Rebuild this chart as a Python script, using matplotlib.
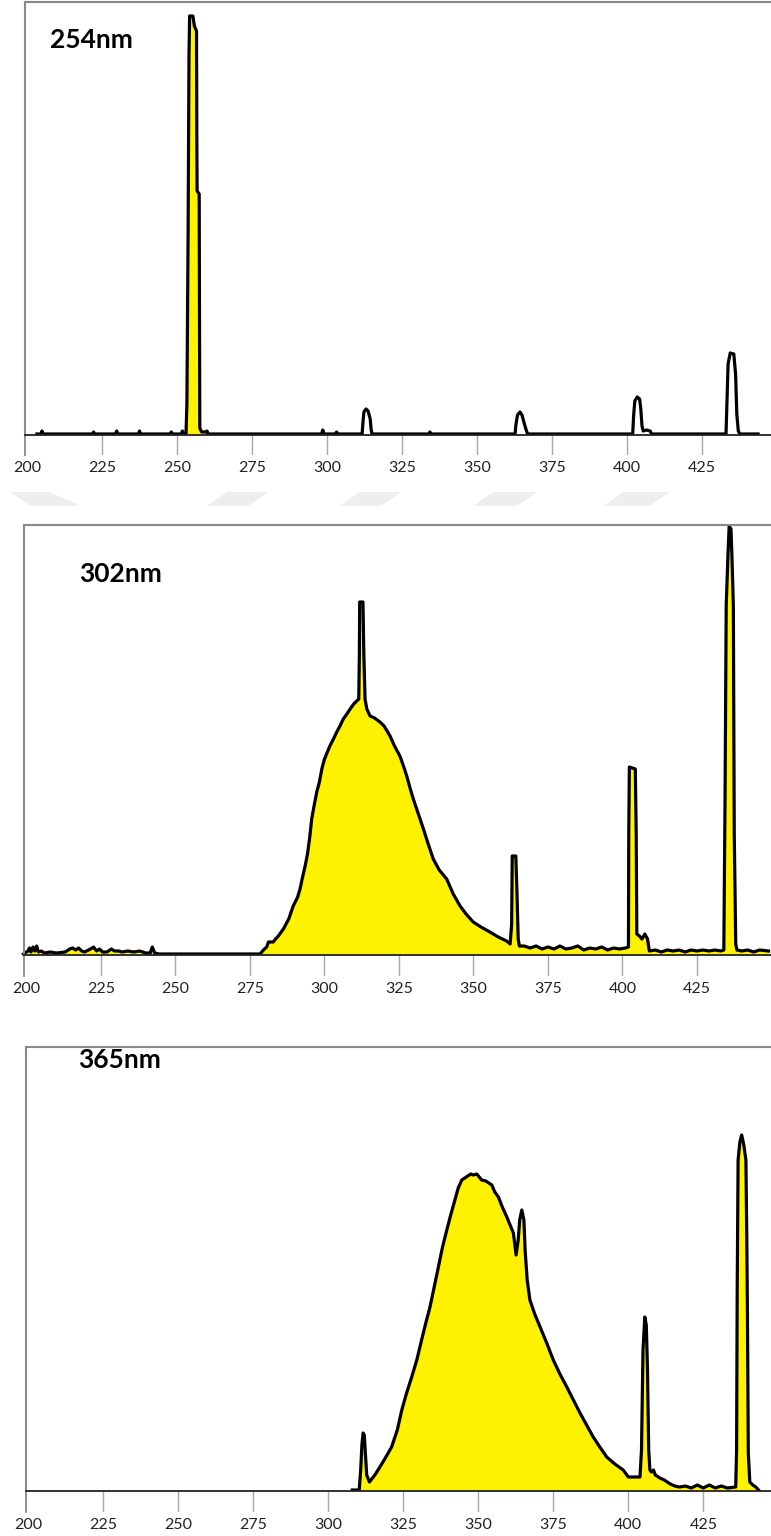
import matplotlib
matplotlib.use("Agg")
import matplotlib.pyplot as plt
from matplotlib.patches import Polygon
import numpy as np

W, HPX = 771, 1536

# ---------------- data (wavelength nm, intensity a.u.) ----------------
pts_254 = [(203.3, 0), (204.6, 0), (205.0, 3), (205.4, 0), (221.8, 0), (222.2, 2), (222.6, 0),
           (229.5, 0), (229.9, 3), (230.3, 0), (237.1, 0), (237.5, 3), (237.9, 0), (247.7, 0),
           (248.1, 2), (248.5, 0), (251.4, 0), (251.8, 3), (252.2, 0), (253.0, 0), (253.3, 30),
           (253.7, 200), (254.0, 380), (254.2, 418), (255.3, 418), (255.8, 408), (256.5, 403),
           (256.6, 300), (256.7, 243), (257.4, 240), (257.5, 120), (257.6, 6), (258.2, 2),
           (259.7, 2), (260.0, 3), (260.4, 0), (298.2, 0), (298.6, 4), (299.0, 0), (302.8, 0),
           (303.2, 2), (303.6, 0), (311.7, 0), (312.0, 12), (312.3, 22), (313.0, 25), (313.7, 23),
           (314.4, 15), (314.7, 5), (315.0, 0), (333.9, 0), (334.3, 2), (334.7, 0), (362.7, 0),
           (363.0, 10), (363.5, 19), (364.3, 22), (365.0, 19), (365.8, 10), (366.6, 2), (367.0, 0),
           (401.9, 0), (402.2, 18), (402.6, 33), (403.4, 37), (404.2, 35), (404.6, 25), (405.0, 8),
           (405.4, 3), (406.5, 4), (407.7, 3), (408.2, 0), (433.0, 0), (433.3, 30), (433.7, 70),
           (434.4, 81), (435.6, 80), (436.2, 60), (436.6, 20), (437.1, 3), (437.6, 0), (443.7, 0)]
fill_254 = (252.9, 258.3)   # only the 254 nm line is shaded in the top panel

pts_302 = [(199.0, 0), (200.5, 3), (201.0, 6), (201.5, 2), (202.2, 7), (202.8, 3), (203.4, 8),
           (204.0, 2), (205.0, 3), (206.0, 1), (208.0, 2), (210.0, 1), (213.0, 2), (214.5, 5),
           (215.5, 6), (216.5, 4), (217.5, 6), (218.5, 3), (219.5, 2), (221.5, 5), (222.5, 7),
           (223.5, 3), (224.5, 5), (225.5, 2), (227.0, 2), (228.5, 5), (229.5, 3), (231.0, 3),
           (232.0, 2), (234.0, 3), (236.0, 2), (238.0, 3), (240.0, 1), (241.5, 1), (242.2, 7),
           (243.0, 1), (244.5, 0), (278.4, 0), (279.5, 4), (280.6, 7), (281.2, 12), (282.8, 12),
           (283.3, 14), (284.5, 18), (286.2, 25), (288.0, 35), (289.5, 48), (291.0, 57), (291.8, 65),
           (292.5, 75), (293.5, 88), (294.3, 100), (295.1, 118), (295.7, 135), (296.5, 148),
           (297.4, 162), (298.3, 172), (299.1, 185), (300.0, 195), (301.8, 208), (303.0, 215),
           (304.1, 222), (305.2, 228), (306.3, 235), (307.5, 240), (308.6, 245), (309.8, 250),
           (310.8, 253), (311.5, 255), (311.7, 300), (311.8, 352), (312.9, 352), (313.2, 300),
           (313.6, 255), (314.2, 245), (315.3, 238), (316.8, 236), (318.6, 232), (320.0, 228),
           (322.0, 218), (323.5, 208), (325.3, 198), (326.5, 188), (327.6, 178), (328.7, 166),
           (329.8, 155), (331.5, 140), (333.2, 125), (334.8, 110), (336.5, 95), (338.5, 84),
           (341.0, 75), (343.2, 60), (345.5, 48), (347.5, 40), (349.9, 32), (352.5, 27),
           (355.5, 22), (358.3, 17), (361.1, 13), (362.3, 10), (362.8, 30), (363.0, 98),
           (364.2, 98), (364.6, 60), (365.0, 15), (365.4, 8), (367.0, 8), (369.0, 6), (371.0, 8),
           (373.0, 5), (375.0, 7), (377.0, 5), (379.0, 8), (381.0, 5), (383.0, 6), (385.0, 8),
           (387.0, 4), (389.0, 6), (391.0, 5), (393.0, 7), (395.0, 4), (397.0, 6), (399.0, 5),
           (401.0, 6), (402.0, 7), (402.1, 120), (402.3, 187), (404.3, 185), (404.6, 120),
           (404.8, 20), (405.7, 18), (406.5, 15), (407.5, 20), (408.4, 15), (409.0, 3), (411.0, 4),
           (413.0, 2), (415.0, 4), (417.0, 3), (419.0, 4), (421.0, 2), (423.0, 4), (425.0, 3),
           (427.0, 4), (429.0, 3), (431.0, 4), (433.0, 3), (434.0, 4), (434.4, 150), (434.8, 348),
           (435.4, 400), (435.8, 428), (436.4, 425), (436.7, 400), (437.2, 348), (437.5, 120),
           (438.0, 10), (438.4, 4), (440.0, 3), (442.0, 4), (444.0, 2), (446.0, 4), (449.0, 3)]

pts_365 = [(308.0, 0), (310.3, 0), (310.8, 20), (311.2, 45), (311.6, 57), (312.0, 55), (312.4, 35),
           (312.8, 15), (313.7, 8), (315.5, 15), (317.2, 23), (319.0, 32), (321.1, 43), (323.0, 60),
           (324.5, 80), (326.0, 96), (327.8, 113), (329.5, 130), (331.1, 150), (332.5, 167),
           (333.9, 183), (335.3, 203), (336.7, 223), (338.0, 242), (339.5, 260), (340.8, 275),
           (342.2, 290), (343.3, 302), (344.5, 310), (346.0, 313), (347.5, 316), (348.3, 315),
           (349.5, 316), (351.1, 310), (352.5, 309), (354.5, 305), (355.5, 298), (356.7, 293),
           (358.0, 283), (359.5, 273), (361.7, 257), (362.6, 235), (363.3, 250), (363.8, 270),
           (364.5, 280), (365.2, 270), (365.6, 240), (366.3, 210), (367.2, 190), (368.8, 176),
           (370.6, 163), (372.8, 147), (375.0, 130), (377.2, 116), (379.5, 103), (381.7, 90),
           (383.9, 77), (386.1, 65), (388.3, 53), (390.5, 43), (392.8, 33), (395.5, 26),
           (398.3, 20), (400.0, 13), (403.9, 13), (404.4, 40), (404.9, 140), (405.5, 173),
           (406.0, 165), (406.4, 120), (406.8, 40), (407.2, 20), (407.7, 18), (408.4, 20),
           (409.0, 15), (410.5, 12), (412.0, 10), (414.0, 6), (415.5, 4), (417.0, 3), (419.0, 4),
           (421.0, 2), (423.0, 5), (425.0, 2), (427.0, 5), (429.0, 2), (431.0, 4), (433.0, 2),
           (435.8, 3), (436.1, 40), (436.3, 200), (436.6, 330), (437.2, 348), (437.8, 355),
           (438.5, 345), (439.2, 330), (439.5, 250), (439.7, 183), (440.0, 37), (440.5, 8),
           (441.5, 5), (442.5, 3), (443.4, 0)]

panel_labels = ["254nm", "302nm", "365nm"]
tick_values = [200, 225, 250, 275, 300, 325, 350, 375, 400, 425]
tick_labels = [str(t) for t in tick_values]

# ---------------- layout (pixel geometry of each panel) ----------------
panels = [
    dict(pts=pts_254, fill=fill_254, border=25, x200=27.0, scale=3.00, top=2, base=435, band=455,
         tx=50, ty=48),
    dict(pts=pts_302, fill=None, border=24, x200=26.5, scale=2.98, top=525, base=955, band=976,
         tx=79, ty=582),
    dict(pts=pts_365, fill=None, border=25.5, x200=28.3, scale=3.00, top=1047, base=1491, band=1512,
         tx=78, ty=1068),
]

YELLOW = "#FFF200"
FRAME = "#8a8a8a"

fig = plt.figure(figsize=(W / 100, HPX / 100), dpi=100)
fig.patch.set_facecolor("white")

for p, lab in zip(panels, panel_labels):
    wl = np.array([a for a, b in p["pts"]])
    it = np.array([b for a, b in p["pts"]], dtype=float)
    left = p["border"] / W
    x0 = 200 - (p["x200"] - p["border"]) / p["scale"]
    x1 = 200 + (W - p["x200"]) / p["scale"]
    h = p["base"] - p["top"]

    ax = fig.add_axes([left, 1 - p["base"] / HPX, 1 - left, h / HPX])
    ax.set_xlim(x0, x1)
    ax.set_ylim(-1, h - 1)
    ax.set_xticks([])
    ax.set_yticks([])
    for s in ("right", "bottom"):
        ax.spines[s].set_visible(False)
    for s in ("top", "left"):
        ax.spines[s].set_color(FRAME)
        ax.spines[s].set_linewidth(1.5)

    if p["fill"] is None:
        ax.fill_between(wl, 0, it, color=YELLOW, lw=0, zorder=1)
    else:
        m = (wl >= p["fill"][0]) & (wl <= p["fill"][1])
        ax.fill_between(wl[m], 0, it[m], color=YELLOW, lw=0, zorder=1)
    ax.plot(wl, it, color="black", lw=2.3, solid_joinstyle="round", zorder=2, clip_on=False)

    # x-axis band below the baseline
    bx = fig.add_axes([left, 1 - p["band"] / HPX, 1 - left, (p["band"] - p["base"]) / HPX])
    bx.set_xlim(x0, x1)
    bx.set_ylim(0, 1)
    bx.set_yticks([])
    bx.set_xticks(tick_values)
    bx.set_xticklabels(tick_labels, fontsize=11.5, family="Lato", color="#222222")
    bx.tick_params(axis="x", length=0, pad=4.3)
    for t in tick_values[1:]:
        bx.axvline(t, color="#a8a8a8", lw=1.0)
    for s in ("right", "bottom"):
        bx.spines[s].set_visible(False)
    bx.spines["left"].set_color(FRAME)
    bx.spines["left"].set_linewidth(1.3)
    bx.spines["top"].set_color("#222222")
    bx.spines["top"].set_linewidth(1.3)

    fig.text(p["tx"] / W, 1 - p["ty"] / HPX, lab, fontsize=19, fontweight="bold",
             family="Lato", color="black", va="baseline", ha="left")

# faint watermark shapes between the first two panels
wm_top, wm_bot = 492, 506
shapes = [[(10, wm_top), (49, wm_top), (81, wm_bot), (30, wm_bot)]]
for xa, xb in [(207, 268), (340, 401), (473, 537), (603, 670)]:
    shapes.append([(xa + 20, wm_top), (xb, wm_top), (xb - 20, wm_bot), (xa, wm_bot)])
for sh in shapes:
    poly = Polygon([(x / W, 1 - y / HPX) for x, y in sh], closed=True,
                   transform=fig.transFigure, facecolor="#eeeeee", edgecolor="none", zorder=0)
    fig.patches.append(poly)

fig.savefig("out.png", dpi=100, facecolor="white")
